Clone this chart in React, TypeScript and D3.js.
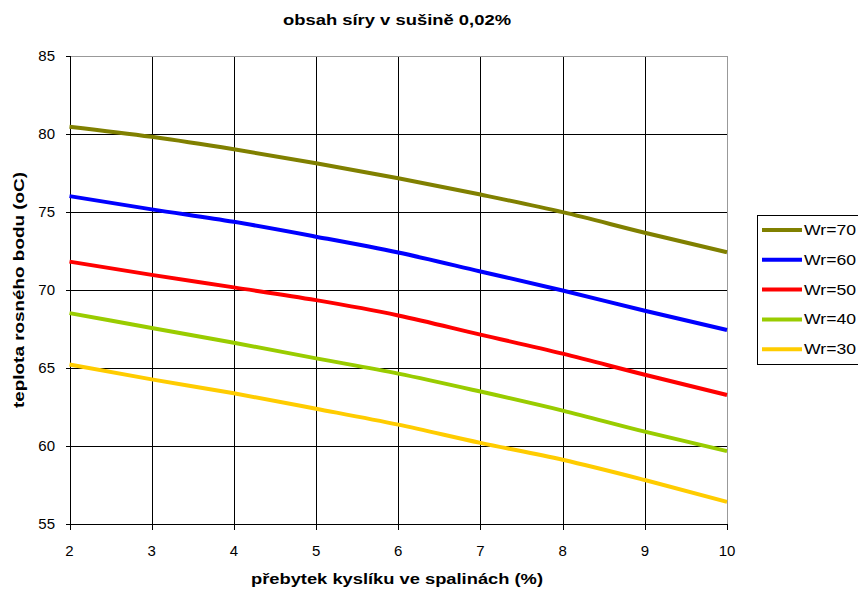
import React from "react";
import * as d3 from "d3";

const xValues = [2, 3, 4, 5, 6, 7, 8, 9, 10];
const seriesNames = ["Wr=70", "Wr=60", "Wr=50", "Wr=40", "Wr=30"];
const wr70 = [80.45, 79.8, 79.0, 78.1, 77.15, 76.1, 74.97, 73.65, 72.4];
const wr60 = [76.0, 75.15, 74.35, 73.4, 72.38, 71.17, 69.95, 68.65, 67.42];
const wr50 = [71.8, 70.95, 70.15, 69.33, 68.35, 67.12, 65.9, 64.55, 63.25];
const wr40 = [68.5, 67.55, 66.6, 65.6, 64.62, 63.47, 62.25, 60.9, 59.65];
const wr30 = [65.2, 64.25, 63.36, 62.37, 61.35, 60.18, 59.1, 57.8, 56.4];
const seriesColors = ["#808000", "#0000FF", "#FF0000", "#99CC00", "#FFCC00"];
const xTicks = [2, 3, 4, 5, 6, 7, 8, 9, 10];
const yTicks = [55, 60, 65, 70, 75, 80, 85];

const title = "obsah síry v sušině 0,02%";
const xTitle = "přebytek kyslíku ve spalinách (%)";
const yTitle = "teplota rosného bodu (oC)";

export default function App() {
  const W = 858, H = 592;
  const left = 69.5, right = 727, top = 55.7, bottom = 523.7;
  const x = d3.scaleLinear().domain([2, 10]).range([left, right]);
  const y = d3.scaleLinear().domain([55, 85]).range([bottom, top]);
  const px = (v: number) => Math.round(v) + 0.5;
  const allSeries = [wr70, wr60, wr50, wr40, wr30];
  const line = d3.line<number>().x((_, i) => x(xValues[i])).y((d) => y(d)).curve(d3.curveMonotoneX);
  const font = "Arial, 'Liberation Sans', sans-serif";
  const L = px(left), R = px(right), T = px(top), B = px(bottom);

  return (
    <svg width={W} height={H} style={{ position: "absolute", left: 0, top: 0, background: "#fff" }}>
      <rect x={0} y={0} width={W} height={H} fill="#fff" />
      <text x={397} y={25} textAnchor="middle" fontFamily={font} fontWeight="bold" fontSize={15} textLength={228} lengthAdjust="spacingAndGlyphs">{title}</text>
      <g shapeRendering="crispEdges">
        {xTicks.slice(1, -1).map((t) => (
          <line key={"gx" + t} x1={px(x(t))} x2={px(x(t))} y1={T} y2={B} stroke="#000" strokeWidth={1} />
        ))}
        {yTicks.slice(1, -1).map((t) => (
          <line key={"gy" + t} x1={L} x2={R} y1={px(y(t))} y2={px(y(t))} stroke="#000" strokeWidth={1} />
        ))}
        <line x1={L} x2={R} y1={T} y2={T} stroke="#999" strokeWidth={1} />
        <line x1={R} x2={R} y1={T} y2={B} stroke="#999" strokeWidth={1} />
        <line x1={L} x2={L} y1={T} y2={B} stroke="#000" strokeWidth={1} />
        <line x1={L} x2={R} y1={B} y2={B} stroke="#000" strokeWidth={1} />
        {yTicks.map((t) => (
          <line key={"ytl" + t} x1={L - 5} x2={L} y1={px(y(t))} y2={px(y(t))} stroke="#000" />
        ))}
        {xTicks.map((t) => (
          <line key={"xtl" + t} x1={px(x(t))} x2={px(x(t))} y1={B} y2={B + 5} stroke="#000" />
        ))}
      </g>
      {yTicks.map((t) => (
        <text key={"yt" + t} x={55} y={y(t) + 5.5} textAnchor="end" fontFamily={font} fontSize={15}>{t}</text>
      ))}
      {xTicks.map((t) => (
        <text key={"xt" + t} x={x(t)} y={556} textAnchor="middle" fontFamily={font} fontSize={15}>{t}</text>
      ))}
      {allSeries.map((s, i) => (
        <path key={seriesNames[i]} d={line(s) || ""} fill="none" stroke={seriesColors[i]} strokeWidth={4} />
      ))}
      <text x={397} y={584} textAnchor="middle" fontFamily={font} fontWeight="bold" fontSize={14} textLength={292} lengthAdjust="spacingAndGlyphs">{xTitle}</text>
      <text transform={`translate(24,290) rotate(-90)`} textAnchor="middle" fontFamily={font} fontWeight="bold" fontSize={14} textLength={236} lengthAdjust="spacingAndGlyphs">{yTitle}</text>
      <rect x={757.5} y={215.5} width={110} height={149} fill="#fff" stroke="#000" strokeWidth={1} shapeRendering="crispEdges" />
      {seriesNames.map((n, i) => {
        const ly = 230 + i * 29.8;
        return (
          <g key={"lg" + n}>
            <line x1={762} x2={802} y1={ly} y2={ly} stroke={seriesColors[i]} strokeWidth={4} />
            <text x={804} y={ly + 5} fontFamily={font} fontSize={14} textLength={52} lengthAdjust="spacingAndGlyphs">{n}</text>
          </g>
        );
      })}
    </svg>
  );
}
